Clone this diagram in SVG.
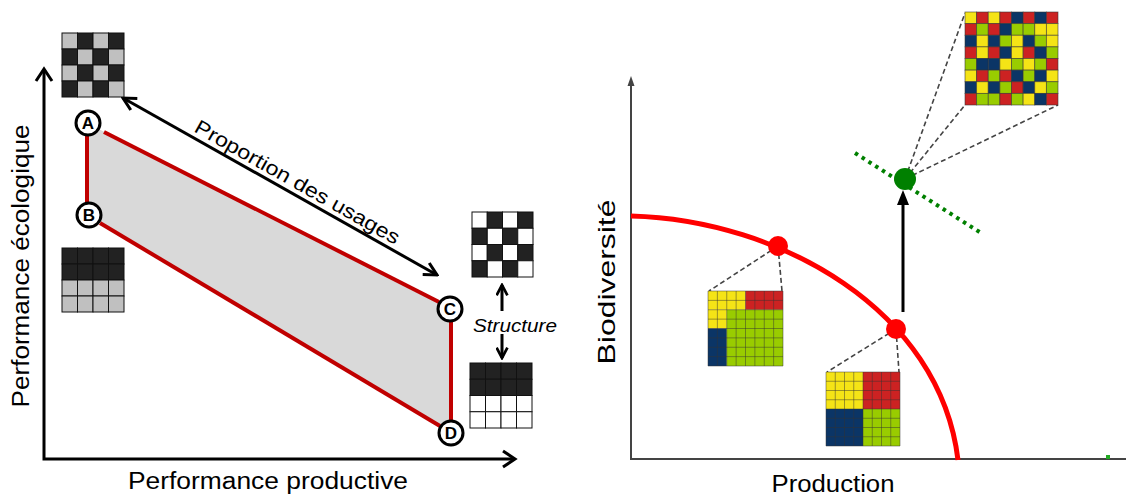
<svg xmlns="http://www.w3.org/2000/svg" width="1126" height="495" viewBox="0 0 1126 495">
<style>
.t{font-family:"Liberation Sans",Arial,sans-serif;fill:#000}
.lbl{font-family:"Liberation Sans",Arial,sans-serif;font-weight:bold;font-size:17px;text-anchor:middle}
.ring{fill:#fff;stroke:#000;stroke-width:3}
.red{stroke:#c00000;stroke-width:4;fill:none}
.ax{stroke:#000;stroke-width:3;fill:none}
.dash{stroke:#444;stroke-width:1.6;stroke-dasharray:5 3;fill:none}
.gd rect{stroke:#111;stroke-width:1}
.D{fill:#222}.L{fill:#c0c0c0}.W{fill:#fff}
.cg rect{stroke:#333;stroke-width:0.8;stroke-opacity:0.7}
.y{fill:#f5e416}.r{fill:#cc2222}.n{fill:#0b3566}.g{fill:#99cc00}
.gl{stroke:#333;stroke-width:0.8;stroke-opacity:0.6;fill:none}
</style>
<defs>
<marker id="chev" viewBox="0 0 12 12" refX="10.5" refY="6" markerUnits="userSpaceOnUse" markerWidth="16" markerHeight="16" orient="auto-start-reverse">
<path d="M1,1 L10.5,6 L1,11" fill="none" stroke="#000" stroke-width="2.3"/>
</marker>
<marker id="chevs" viewBox="0 0 12 12" refX="10.5" refY="6" markerUnits="userSpaceOnUse" markerWidth="13" markerHeight="13" orient="auto-start-reverse">
<path d="M1,1 L10.5,6 L1,11" fill="none" stroke="#000" stroke-width="2.5"/>
</marker>
</defs>

<!-- LEFT PANEL -->
<g id="left-axes">
<path class="ax" d="M44,70 L44,459 L513,459"/>
<path class="ax" d="M36,81 L44,69 L52,81"/>
<path class="ax" d="M503,451 L515,459 L503,467"/>
<text class="t" font-size="23" transform="translate(29,266) rotate(-90)" text-anchor="middle" textLength="283" lengthAdjust="spacingAndGlyphs">Performance écologique</text>
<text class="t" font-size="23" x="268" y="489" text-anchor="middle" textLength="280" lengthAdjust="spacingAndGlyphs">Performance productive</text>
</g>

<g id="region">
<polygon points="87,123 450,309 451,433 88,214" fill="#d9d9d9"/>
</g>

<g id="connectors">
<path class="red" d="M87,135 L87,203"/>
<path class="red" d="M104,132 L439,302"/>
<path class="red" d="M451,321 L451,421"/>
<path class="red" d="M100,223 L440,426"/>
<path d="M123,98 L437,275" stroke="#000" stroke-width="3" fill="none" marker-start="url(#chev)" marker-end="url(#chev)"/>
<path d="M502,311 L502,285" stroke="#000" stroke-width="3" fill="none" marker-end="url(#chevs)"/>
<path d="M502,334 L502,358" stroke="#000" stroke-width="3" fill="none" marker-end="url(#chevs)"/>
<!-- right panel connectors -->
<path class="dash" d="M778,246 L709,291"/>
<path class="dash" d="M778,246 L782,291"/>
<path class="dash" d="M896,329 L827,372"/>
<path class="dash" d="M896,329 L899,372"/>
<path class="dash" d="M905,179 L965,13"/>
<path class="dash" d="M905,179 L965,105"/>
<path class="dash" d="M905,179 L1058,105"/>
<path d="M903,312 L903,200" stroke="#000" stroke-width="3"/>
<polygon points="897,205 903,190 909,205" fill="#000"/>
</g>

<text class="t" font-size="20" transform="translate(294,188) rotate(29.4)" text-anchor="middle" textLength="232" lengthAdjust="spacingAndGlyphs">Proportion des usages</text>
<text class="t" font-size="18" font-style="italic" x="515" y="332" text-anchor="middle" textLength="84" lengthAdjust="spacingAndGlyphs">Structure</text>

<g id="node-A"><circle class="ring" cx="88" cy="123" r="12"/><text class="lbl" x="88" y="129">A</text></g>
<g id="node-B"><circle class="ring" cx="89" cy="215" r="12"/><text class="lbl" x="89" y="221">B</text></g>
<g id="node-C"><circle class="ring" cx="450" cy="309" r="12"/><text class="lbl" x="450" y="315">C</text></g>
<g id="node-D"><circle class="ring" cx="451" cy="433" r="12"/><text class="lbl" x="451" y="439">D</text></g>

<g id="grid-A" class="gd">
<rect class="L" x="62" y="33" width="15.5" height="16"/><rect class="D" x="77.5" y="33" width="15.5" height="16"/><rect class="L" x="93" y="33" width="15.5" height="16"/><rect class="D" x="108.5" y="33" width="15.5" height="16"/>
<rect class="D" x="62" y="49" width="15.5" height="16"/><rect class="L" x="77.5" y="49" width="15.5" height="16"/><rect class="D" x="93" y="49" width="15.5" height="16"/><rect class="L" x="108.5" y="49" width="15.5" height="16"/>
<rect class="L" x="62" y="65" width="15.5" height="16"/><rect class="D" x="77.5" y="65" width="15.5" height="16"/><rect class="L" x="93" y="65" width="15.5" height="16"/><rect class="D" x="108.5" y="65" width="15.5" height="16"/>
<rect class="D" x="62" y="81" width="15.5" height="16"/><rect class="L" x="77.5" y="81" width="15.5" height="16"/><rect class="D" x="93" y="81" width="15.5" height="16"/><rect class="L" x="108.5" y="81" width="15.5" height="16"/>
</g>
<g id="grid-B" class="gd">
<rect class="D" x="62" y="248" width="15.5" height="16"/><rect class="D" x="77.5" y="248" width="15.5" height="16"/><rect class="D" x="93" y="248" width="15.5" height="16"/><rect class="D" x="108.5" y="248" width="15.5" height="16"/>
<rect class="D" x="62" y="264" width="15.5" height="16"/><rect class="D" x="77.5" y="264" width="15.5" height="16"/><rect class="D" x="93" y="264" width="15.5" height="16"/><rect class="D" x="108.5" y="264" width="15.5" height="16"/>
<rect class="L" x="62" y="280" width="15.5" height="16"/><rect class="L" x="77.5" y="280" width="15.5" height="16"/><rect class="L" x="93" y="280" width="15.5" height="16"/><rect class="L" x="108.5" y="280" width="15.5" height="16"/>
<rect class="L" x="62" y="296" width="15.5" height="16"/><rect class="L" x="77.5" y="296" width="15.5" height="16"/><rect class="L" x="93" y="296" width="15.5" height="16"/><rect class="L" x="108.5" y="296" width="15.5" height="16"/>
</g>
<g id="grid-C" class="gd">
<rect class="W" x="472" y="212" width="15.25" height="16.25"/><rect class="D" x="487.25" y="212" width="15.25" height="16.25"/><rect class="W" x="502.5" y="212" width="15.25" height="16.25"/><rect class="D" x="517.75" y="212" width="15.25" height="16.25"/>
<rect class="D" x="472" y="228.25" width="15.25" height="16.25"/><rect class="W" x="487.25" y="228.25" width="15.25" height="16.25"/><rect class="D" x="502.5" y="228.25" width="15.25" height="16.25"/><rect class="W" x="517.75" y="228.25" width="15.25" height="16.25"/>
<rect class="W" x="472" y="244.5" width="15.25" height="16.25"/><rect class="D" x="487.25" y="244.5" width="15.25" height="16.25"/><rect class="W" x="502.5" y="244.5" width="15.25" height="16.25"/><rect class="D" x="517.75" y="244.5" width="15.25" height="16.25"/>
<rect class="D" x="472" y="260.75" width="15.25" height="16.25"/><rect class="W" x="487.25" y="260.75" width="15.25" height="16.25"/><rect class="D" x="502.5" y="260.75" width="15.25" height="16.25"/><rect class="W" x="517.75" y="260.75" width="15.25" height="16.25"/>
</g>
<g id="grid-D" class="gd">
<rect class="D" x="470" y="363" width="15.5" height="16.25"/><rect class="D" x="485.5" y="363" width="15.5" height="16.25"/><rect class="D" x="501" y="363" width="15.5" height="16.25"/><rect class="D" x="516.5" y="363" width="15.5" height="16.25"/>
<rect class="D" x="470" y="379.25" width="15.5" height="16.25"/><rect class="D" x="485.5" y="379.25" width="15.5" height="16.25"/><rect class="D" x="501" y="379.25" width="15.5" height="16.25"/><rect class="D" x="516.5" y="379.25" width="15.5" height="16.25"/>
<rect class="W" x="470" y="395.5" width="15.5" height="16.25"/><rect class="W" x="485.5" y="395.5" width="15.5" height="16.25"/><rect class="W" x="501" y="395.5" width="15.5" height="16.25"/><rect class="W" x="516.5" y="395.5" width="15.5" height="16.25"/>
<rect class="W" x="470" y="411.75" width="15.5" height="16.25"/><rect class="W" x="485.5" y="411.75" width="15.5" height="16.25"/><rect class="W" x="501" y="411.75" width="15.5" height="16.25"/><rect class="W" x="516.5" y="411.75" width="15.5" height="16.25"/>
</g>

<!-- RIGHT PANEL -->
<g id="right-axes">
<path d="M631,84 L631,459 L1126,459" stroke="#444" stroke-width="2" fill="none"/>
<polygon points="627.5,86 631,76 634.5,86" fill="#444"/>
<rect x="1106" y="455" width="4" height="4" fill="#22aa22"/>
<text class="t" font-size="24" transform="translate(615,282) rotate(-90)" text-anchor="middle" textLength="165" lengthAdjust="spacingAndGlyphs">Biodiversité</text>
<text class="t" font-size="23" x="833" y="492" text-anchor="middle" textLength="123" lengthAdjust="spacingAndGlyphs">Production</text>
</g>
<g id="frontier">
<path d="M631,216 C780,220 940,310 958,460" stroke="#ff0000" stroke-width="5" fill="none"/>
</g>
<g id="green-line">
<path d="M855,153 L981,233" stroke="#008000" stroke-width="4" stroke-dasharray="3.5 4.5" fill="none"/>
</g>
<g id="dot-1"><circle cx="778" cy="246" r="10" fill="#ff0000"/></g>
<g id="dot-2"><circle cx="896" cy="329" r="10" fill="#ff0000"/></g>
<g id="dot-green"><circle cx="905" cy="179" r="11" fill="#008000"/></g>

<g id="grid-mid">
<rect class="y" x="708" y="291" width="37.5" height="18.75"/>
<rect class="y" x="708" y="309.75" width="18.75" height="18.75"/>
<rect class="r" x="745.5" y="291" width="37.5" height="18.75"/>
<rect class="n" x="708" y="328.5" width="18.75" height="37.5"/>
<rect class="g" x="726.75" y="309.75" width="56.25" height="56.25"/>
<path class="gl" d="M708,291h75v75h-75z M717.375,291v75 M726.75,291v75 M736.125,291v75 M745.5,291v75 M754.875,291v75 M764.25,291v75 M773.625,291v75 M708,300.375h75 M708,309.75h75 M708,319.125h75 M708,328.5h75 M708,337.875h75 M708,347.25h75 M708,356.625h75"/>
</g>
<g id="grid-low">
<rect class="y" x="826" y="372" width="37" height="37"/>
<rect class="r" x="863" y="372" width="37" height="37"/>
<rect class="n" x="826" y="409" width="37" height="37"/>
<rect class="g" x="863" y="409" width="37" height="37"/>
<path class="gl" d="M826,372h74v74h-74z M835.25,372v74 M844.5,372v74 M853.75,372v74 M863,372v74 M872.25,372v74 M881.5,372v74 M890.75,372v74 M826,381.25h74 M826,390.5h74 M826,399.75h74 M826,409h74 M826,418.25h74 M826,427.5h74 M826,436.75h74"/>
</g>
<g id="grid-top" class="cg">
<rect class="y" x="965" y="12" width="11.625" height="11.625"/><rect class="r" x="976.625" y="12" width="11.625" height="11.625"/><rect class="y" x="988.25" y="12" width="11.625" height="11.625"/><rect class="r" x="999.875" y="12" width="11.625" height="11.625"/><rect class="n" x="1011.5" y="12" width="11.625" height="11.625"/><rect class="r" x="1023.125" y="12" width="11.625" height="11.625"/><rect class="n" x="1034.75" y="12" width="11.625" height="11.625"/><rect class="r" x="1046.375" y="12" width="11.625" height="11.625"/>
<rect class="r" x="965" y="23.625" width="11.625" height="11.625"/><rect class="g" x="976.625" y="23.625" width="11.625" height="11.625"/><rect class="r" x="988.25" y="23.625" width="11.625" height="11.625"/><rect class="n" x="999.875" y="23.625" width="11.625" height="11.625"/><rect class="g" x="1011.5" y="23.625" width="11.625" height="11.625"/><rect class="g" x="1023.125" y="23.625" width="11.625" height="11.625"/><rect class="y" x="1034.75" y="23.625" width="11.625" height="11.625"/><rect class="y" x="1046.375" y="23.625" width="11.625" height="11.625"/>
<rect class="n" x="965" y="35.25" width="11.625" height="11.625"/><rect class="y" x="976.625" y="35.25" width="11.625" height="11.625"/><rect class="n" x="988.25" y="35.25" width="11.625" height="11.625"/><rect class="g" x="999.875" y="35.25" width="11.625" height="11.625"/><rect class="y" x="1011.5" y="35.25" width="11.625" height="11.625"/><rect class="n" x="1023.125" y="35.25" width="11.625" height="11.625"/><rect class="g" x="1034.75" y="35.25" width="11.625" height="11.625"/><rect class="y" x="1046.375" y="35.25" width="11.625" height="11.625"/>
<rect class="r" x="965" y="46.875" width="11.625" height="11.625"/><rect class="y" x="976.625" y="46.875" width="11.625" height="11.625"/><rect class="r" x="988.25" y="46.875" width="11.625" height="11.625"/><rect class="n" x="999.875" y="46.875" width="11.625" height="11.625"/><rect class="y" x="1011.5" y="46.875" width="11.625" height="11.625"/><rect class="r" x="1023.125" y="46.875" width="11.625" height="11.625"/><rect class="n" x="1034.75" y="46.875" width="11.625" height="11.625"/><rect class="g" x="1046.375" y="46.875" width="11.625" height="11.625"/>
<rect class="g" x="965" y="58.5" width="11.625" height="11.625"/><rect class="n" x="976.625" y="58.5" width="11.625" height="11.625"/><rect class="n" x="988.25" y="58.5" width="11.625" height="11.625"/><rect class="y" x="999.875" y="58.5" width="11.625" height="11.625"/><rect class="g" x="1011.5" y="58.5" width="11.625" height="11.625"/><rect class="y" x="1023.125" y="58.5" width="11.625" height="11.625"/><rect class="g" x="1034.75" y="58.5" width="11.625" height="11.625"/><rect class="r" x="1046.375" y="58.5" width="11.625" height="11.625"/>
<rect class="y" x="965" y="70.125" width="11.625" height="11.625"/><rect class="r" x="976.625" y="70.125" width="11.625" height="11.625"/><rect class="g" x="988.25" y="70.125" width="11.625" height="11.625"/><rect class="r" x="999.875" y="70.125" width="11.625" height="11.625"/><rect class="n" x="1011.5" y="70.125" width="11.625" height="11.625"/><rect class="g" x="1023.125" y="70.125" width="11.625" height="11.625"/><rect class="n" x="1034.75" y="70.125" width="11.625" height="11.625"/><rect class="y" x="1046.375" y="70.125" width="11.625" height="11.625"/>
<rect class="n" x="965" y="81.75" width="11.625" height="11.625"/><rect class="y" x="976.625" y="81.75" width="11.625" height="11.625"/><rect class="n" x="988.25" y="81.75" width="11.625" height="11.625"/><rect class="g" x="999.875" y="81.75" width="11.625" height="11.625"/><rect class="r" x="1011.5" y="81.75" width="11.625" height="11.625"/><rect class="n" x="1023.125" y="81.75" width="11.625" height="11.625"/><rect class="y" x="1034.75" y="81.75" width="11.625" height="11.625"/><rect class="g" x="1046.375" y="81.75" width="11.625" height="11.625"/>
<rect class="r" x="965" y="93.375" width="11.625" height="11.625"/><rect class="g" x="976.625" y="93.375" width="11.625" height="11.625"/><rect class="g" x="988.25" y="93.375" width="11.625" height="11.625"/><rect class="r" x="999.875" y="93.375" width="11.625" height="11.625"/><rect class="g" x="1011.5" y="93.375" width="11.625" height="11.625"/><rect class="y" x="1023.125" y="93.375" width="11.625" height="11.625"/><rect class="n" x="1034.75" y="93.375" width="11.625" height="11.625"/><rect class="r" x="1046.375" y="93.375" width="11.625" height="11.625"/>
</g>
</svg>
